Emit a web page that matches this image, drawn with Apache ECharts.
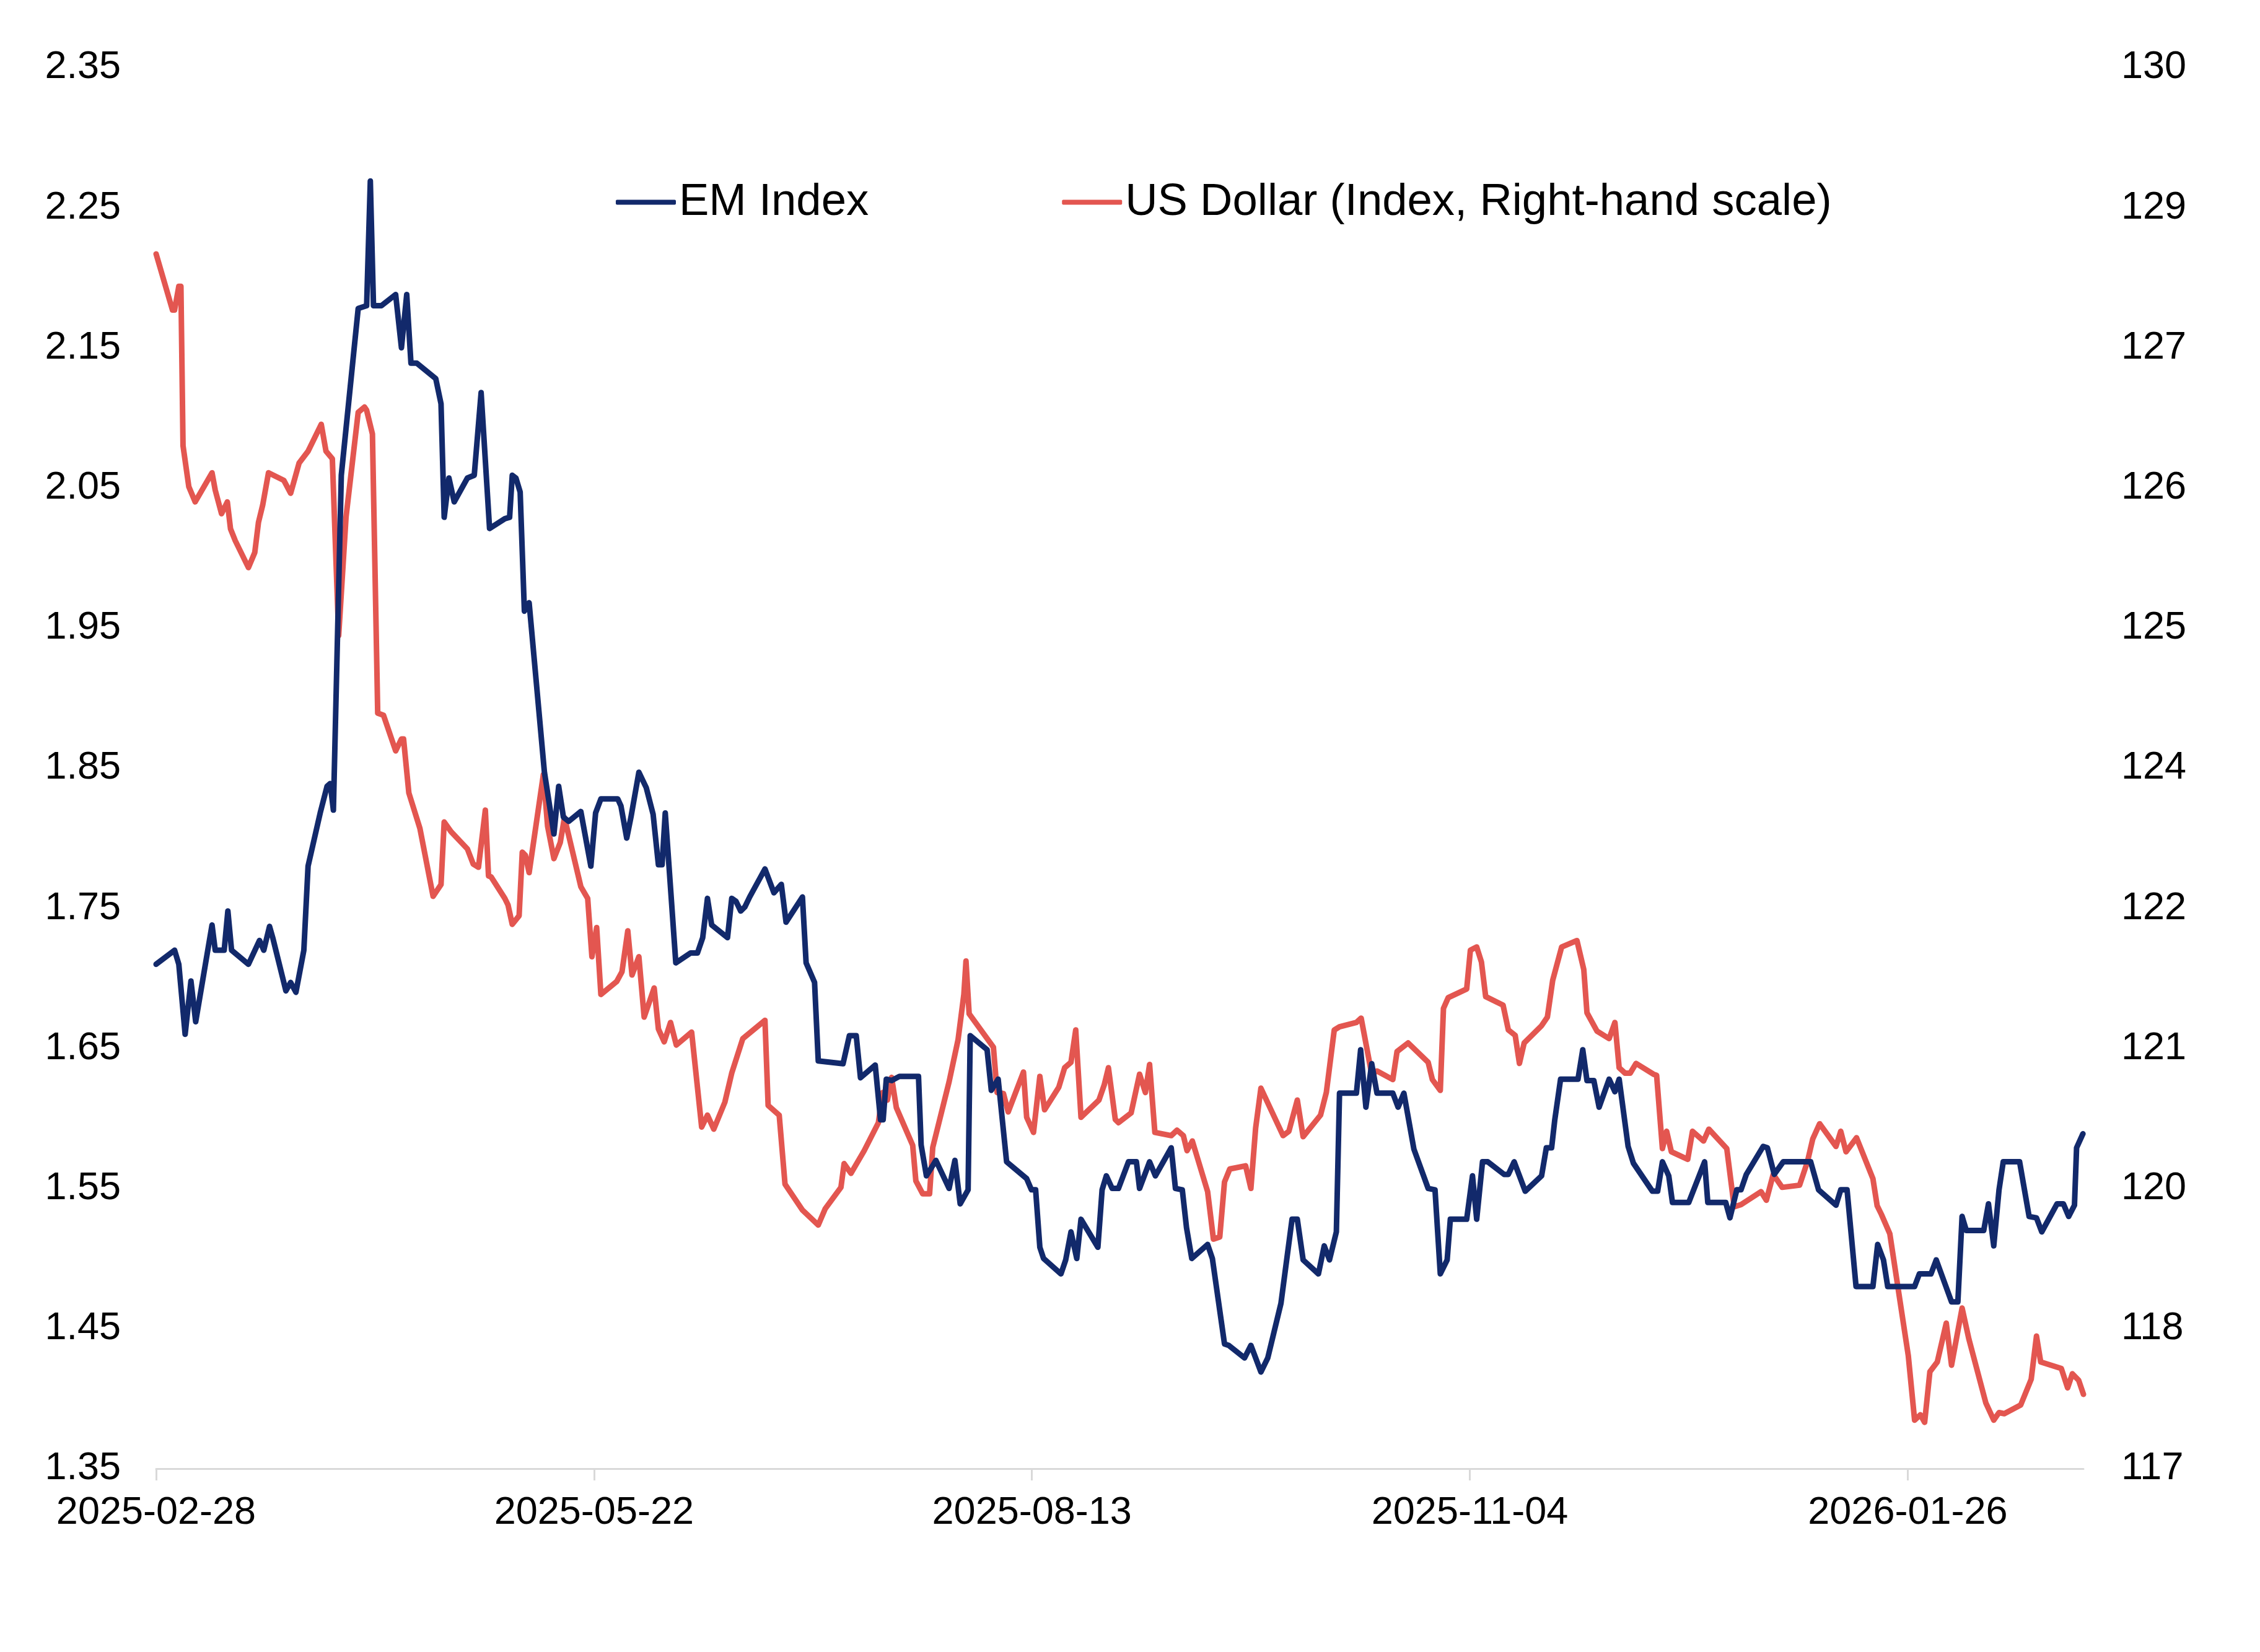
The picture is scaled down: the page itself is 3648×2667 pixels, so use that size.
<!DOCTYPE html>
<html>
<head>
<meta charset="utf-8">
<title>EM Index vs US Dollar</title>
<script src="https://cdn.jsdelivr.net/npm/echarts@6/dist/echarts.min.js"></script>
<style>
  html, body { margin: 0; padding: 0; background: #fff; }
  #chart { width: 3648px; height: 2667px; }
</style>
</head>
<body>
<div id="chart"></div>
<script>
// x positions are days since the first date
const startDate = '2025-02-28';
const tickLabels = ['2025-02-28', '2025-05-22', '2025-08-13', '2025-11-04', '2026-01-26'];

const emDays = [
  0, 3.5, 4.3, 5.5, 6.6, 7.5, 10.6, 11.2, 12.9, 13.6, 14.3, 17.5, 19.6, 20.4, 21.5, 22.1, 24.6, 25.5, 26.5, 28.0,
  28.8, 31.1, 32.4, 33.0, 33.6, 35.1, 38.3, 39.9, 40.6, 41.2, 42.7, 45.4, 46.5, 47.5, 48.3, 49.4, 53.0, 54.0, 54.6, 55.5,
  56.5, 59.0, 60.3, 61.6, 63.2, 66.1, 67.0, 67.5, 68.2, 69.0, 69.8, 70.7, 73.6, 75.4, 76.3, 77.2, 78.2, 80.5, 82.4, 83.3,
  84.3, 87.5, 88.1, 89.2, 90.0, 91.5, 92.9, 94.2, 95.2, 95.9, 96.5, 98.5, 101.3, 102.6, 103.6, 104.5, 105.3, 108.3, 109.1, 109.9,
  110.8, 111.6, 112.5, 115.4, 117.1, 118.5, 119.4, 122.5, 123.2, 124.8, 125.5, 130.2, 131.4, 132.7, 133.5, 136.3, 137.3, 137.8, 138.4, 139.4,
  140.9, 144.5, 145.0, 146.0, 147.8, 150.3, 151.4, 152.4, 153.9, 154.3, 157.5, 158.3, 159.6, 161.2, 165.0, 165.9, 166.7, 167.5, 168.2, 171.5,
  172.4, 173.4, 174.5, 175.3, 178.5, 179.3, 180.1, 181.2, 182.4, 184.3, 185.8, 186.4, 188.3, 189.4, 192.4, 193.2, 194.5, 195.3, 196.3, 199.3,
  200.2, 202.5, 203.3, 206.3, 207.5, 209.4, 210.7, 213.2, 215.3, 216.3, 217.4, 220.3, 221.4, 222.4, 223.7, 224.3, 227.5, 228.3, 229.3, 230.4,
  231.4, 234.4, 235.4, 236.5, 238.4, 241.1, 242.4, 243.4, 244.7, 245.3, 248.4, 249.5, 250.3, 251.4, 252.4, 255.5, 256.3, 257.4, 259.5, 262.6,
  263.5, 264.5, 265.1, 266.2, 269.5, 270.4, 271.2, 272.5, 273.5, 275.4, 276.5, 277.3, 279.0, 280.0, 283.6, 284.6, 285.5, 286.7, 287.4, 290.5,
  293.5, 294.1, 297.5, 298.3, 299.6, 300.4, 301.4, 304.6, 305.4, 306.7, 308.4, 313.6, 315.1, 318.4, 319.3, 320.5, 322.2, 325.4, 326.3, 327.4,
  328.2, 333.3, 334.2, 336.4, 337.4, 340.3, 341.5, 342.3, 343.1, 346.4, 347.3, 348.3, 349.3, 350.1, 353.2, 355.0, 356.4, 357.4, 360.3, 361.5,
  362.5, 363.6, 364.0, 365.2
];
const emValues = [
  1.710, 1.720, 1.710, 1.660, 1.698, 1.669, 1.738, 1.720, 1.720, 1.748, 1.720, 1.710, 1.727, 1.720, 1.737, 1.729, 1.691, 1.697, 1.690, 1.720,
  1.780, 1.818, 1.837, 1.839, 1.820, 2.059, 2.178, 2.180, 2.269, 2.180, 2.180, 2.188, 2.150, 2.188, 2.139, 2.139, 2.128, 2.110, 2.029, 2.057,
  2.040, 2.057, 2.059, 2.118, 2.021, 2.028, 2.029, 2.059, 2.057, 2.047, 1.962, 1.968, 1.847, 1.803, 1.837, 1.815, 1.812, 1.819, 1.780, 1.818,
  1.828, 1.828, 1.823, 1.800, 1.815, 1.847, 1.836, 1.817, 1.781, 1.781, 1.818, 1.711, 1.718, 1.718, 1.729, 1.757, 1.738, 1.729, 1.757, 1.755,
  1.748, 1.751, 1.758, 1.778, 1.761, 1.767, 1.740, 1.758, 1.711, 1.697, 1.641, 1.639, 1.659, 1.659, 1.629, 1.638, 1.599, 1.599, 1.628, 1.627,
  1.630, 1.630, 1.581, 1.559, 1.570, 1.550, 1.570, 1.539, 1.549, 1.659, 1.649, 1.620, 1.628, 1.569, 1.557, 1.549, 1.549, 1.508, 1.500, 1.489,
  1.499, 1.519, 1.500, 1.528, 1.508, 1.549, 1.559, 1.550, 1.550, 1.569, 1.569, 1.550, 1.569, 1.559, 1.579, 1.550, 1.549, 1.522, 1.500, 1.510,
  1.500, 1.439, 1.438, 1.429, 1.438, 1.419, 1.429, 1.468, 1.528, 1.528, 1.499, 1.489, 1.509, 1.499, 1.519, 1.618, 1.618, 1.649, 1.608, 1.639,
  1.618, 1.618, 1.608, 1.618, 1.578, 1.550, 1.549, 1.489, 1.499, 1.528, 1.528, 1.559, 1.528, 1.569, 1.569, 1.560, 1.560, 1.569, 1.548, 1.559,
  1.579, 1.579, 1.599, 1.628, 1.628, 1.649, 1.627, 1.627, 1.608, 1.628, 1.619, 1.628, 1.580, 1.568, 1.548, 1.548, 1.569, 1.559, 1.540, 1.540,
  1.569, 1.540, 1.540, 1.529, 1.549, 1.549, 1.560, 1.580, 1.579, 1.560, 1.569, 1.569, 1.549, 1.538, 1.549, 1.549, 1.480, 1.480, 1.510, 1.499,
  1.480, 1.480, 1.489, 1.489, 1.499, 1.469, 1.469, 1.530, 1.520, 1.520, 1.539, 1.509, 1.549, 1.569, 1.569, 1.530, 1.529, 1.519, 1.539, 1.539,
  1.530, 1.538, 1.579, 1.589
];

const usdDays = [
  0, 3.1, 3.5, 4.3, 4.7, 5.1, 6.2, 7.4, 10.6, 11.2, 12.4, 13.5, 14.1, 15.0, 17.5, 18.7, 19.4, 20.2, 21.3, 24.2,
  25.5, 26.3, 27.1, 28.8, 31.3, 32.2, 33.4, 34.6, 36.0, 38.3, 39.5, 39.9, 41.0, 42.0, 43.1, 45.4, 46.5, 46.9, 47.9, 50.0,
  52.5, 54.0, 54.6, 55.9, 59.0, 60.1, 61.1, 62.4, 63.0, 63.5, 66.1, 66.7, 67.5, 68.8, 69.4, 70.0, 70.7, 73.4, 74.2, 75.4,
  76.6, 77.4, 80.5, 81.8, 82.6, 83.5, 84.3, 87.3, 88.3, 89.4, 90.2, 91.5, 92.5, 94.4, 95.2, 96.3, 97.5, 98.6, 101.5, 103.4,
  104.5, 105.7, 107.8, 109.1, 111.2, 115.4, 116.0, 118.1, 119.2, 122.5, 125.5, 126.8, 129.8, 130.4, 131.7, 134.2, 136.9, 137.7, 138.6, 139.4,
  140.3, 143.4, 144.0, 145.3, 146.6, 147.2, 150.3, 152.0, 153.1, 153.5, 154.1, 158.7, 159.4, 160.6, 161.5, 164.4, 165.0, 166.3, 167.5, 168.4,
  171.1, 172.2, 173.4, 174.3, 175.3, 178.7, 179.7, 180.5, 181.8, 182.4, 184.8, 186.4, 187.5, 188.3, 189.3, 192.4, 193.5, 194.7, 195.4, 196.4,
  199.3, 200.4, 201.6, 202.5, 203.5, 206.5, 207.5, 208.4, 209.4, 213.6, 214.7, 216.3, 217.4, 220.7, 221.8, 223.3, 224.3, 227.5, 228.4, 230.4,
  231.4, 234.4, 235.2, 237.3, 241.1, 241.9, 243.4, 244.0, 244.9, 248.4, 249.1, 250.3, 251.2, 252.0, 255.3, 256.3, 257.6, 258.4, 259.3, 262.6,
  263.7, 264.7, 266.4, 269.3, 270.6, 271.2, 273.1, 275.4, 276.5, 277.3, 278.4, 279.4, 280.5, 283.8, 284.4, 285.5, 286.3, 287.2, 290.3, 291.2,
  293.3, 294.3, 297.7, 299.1, 300.4, 304.2, 305.2, 306.5, 308.2, 311.5, 313.0, 314.0, 315.3, 318.4, 319.3, 320.3, 322.3, 325.4, 326.2, 327.0,
  328.6, 332.1, 333.3, 334.4, 335.2, 336.2, 337.6, 339.3, 340.3, 342.3, 343.6, 346.8, 348.3, 349.3, 350.3, 353.4, 355.4, 356.4, 357.2, 361.1,
  362.3, 363.2, 364.4, 365.3
];
const usdValues = [
  128.27, 127.75, 127.75, 127.97, 127.97, 126.49, 126.11, 125.97, 126.24, 126.08, 125.86, 125.97, 125.72, 125.61, 125.36, 125.50, 125.78, 125.94, 126.24, 126.17,
  126.05, 126.19, 126.33, 126.44, 126.69, 126.44, 126.37, 124.73, 125.83, 126.80, 126.85, 126.82, 126.60, 124.01, 123.99, 123.66, 123.77, 123.77, 123.27, 122.94,
  122.31, 122.42, 123.00, 122.91, 122.75, 122.61, 122.58, 123.11, 122.50, 122.49, 122.29, 122.23, 122.05, 122.13, 122.72, 122.69, 122.53, 123.44, 122.96, 122.66,
  122.81, 123.04, 122.40, 122.29, 121.75, 122.02, 121.40, 121.52, 121.61, 121.99, 121.58, 121.75, 121.19, 121.46, 121.08, 120.96, 121.14, 120.93, 121.05, 120.17,
  120.28, 120.15, 120.40, 120.67, 120.99, 121.16, 120.37, 120.28, 119.64, 119.40, 119.26, 119.41, 119.61, 119.83, 119.74, 119.95, 120.21, 120.49, 120.42, 120.63,
  120.35, 120.00, 119.67, 119.55, 119.55, 119.98, 120.59, 120.98, 121.40, 121.71, 121.22, 120.91, 120.49, 120.48, 120.31, 120.68, 120.26, 120.12, 120.64, 120.33,
  120.54, 120.72, 120.77, 121.07, 120.26, 120.42, 120.56, 120.72, 120.24, 120.21, 120.30, 120.66, 120.49, 120.75, 120.12, 120.09, 120.14, 120.09, 119.95, 120.04,
  119.57, 119.13, 119.15, 119.66, 119.78, 119.81, 119.60, 120.16, 120.53, 120.09, 120.13, 120.42, 120.08, 120.28, 120.49, 121.07, 121.10, 121.14, 121.18, 120.66,
  120.69, 120.61, 120.87, 120.95, 120.77, 120.61, 120.51, 121.27, 121.37, 121.45, 121.81, 121.84, 121.70, 121.38, 121.30, 121.07, 121.02, 120.76, 120.95, 121.11,
  121.19, 121.53, 121.84, 121.90, 121.63, 121.23, 121.06, 120.99, 121.14, 120.72, 120.67, 120.67, 120.76, 120.66, 120.65, 119.97, 120.13, 119.94, 119.87, 120.13,
  120.04, 120.15, 119.97, 119.43, 119.45, 119.57, 119.49, 119.73, 119.61, 119.63, 119.85, 120.06, 120.20, 119.99, 120.13, 119.94, 120.07, 119.69, 119.44, 119.36,
  119.18, 118.05, 117.45, 117.50, 117.43, 117.90, 117.99, 118.35, 117.96, 118.49, 118.20, 117.61, 117.45, 117.52, 117.51, 117.59, 117.83, 118.23, 117.99, 117.93,
  117.75, 117.88, 117.82, 117.69
];

const DAY_MS = 24 * 3600 * 1000;
const startMs = Date.parse(startDate + 'T00:00:00Z');
const dayToLabel = d => new Date(startMs + Math.round(d) * DAY_MS).toISOString().slice(0, 10);
const tickDays = tickLabels.map(s => Math.round((Date.parse(s + 'T00:00:00Z') - startMs) / DAY_MS));

const zip = (xs, ys) => xs.map((x, i) => [x, ys[i]]);
const font = "'Liberation Sans', Arial, sans-serif";
const EM_COLOR = '#12296B';
const USD_COLOR = '#E35650';

const chart = echarts.init(document.getElementById('chart'));

const option = {
  animation: false,
  backgroundColor: '#ffffff',
  grid: {
    left: 252,
    right: 285,
    top: 109,
    bottom: 296,
    containLabel: false
  },
  legend: {
    left: 989,
    top: 285,
    itemWidth: 97,
    itemHeight: 8,
    itemGap: 312,
    icon: 'roundRect',
    textStyle: { fontSize: 72.5, color: '#000', fontFamily: font },
    data: ['EM Index', 'US Dollar (Index, Right-hand scale)']
  },
  xAxis: {
    type: 'value',
    min: 0,
    max: Math.max(emDays[emDays.length - 1], usdDays[usdDays.length - 1]),
    interval: 83,
    splitLine: { show: false },
    axisLine: { show: true, lineStyle: { color: '#D9D9D9', width: 3 } },
    axisTick: {
      show: true,
      length: 19,
      customValues: tickDays,
      lineStyle: { color: '#D9D9D9', width: 3 }
    },
    axisLabel: {
      customValues: tickDays,
      margin: 40,
      color: '#000',
      fontSize: 63,
      fontFamily: font,
      formatter: v => dayToLabel(v)
    }
  },
  yAxis: [
    {
      type: 'value',
      position: 'left',
      min: 1.35,
      max: 2.35,
      interval: 0.1,
      splitLine: { show: false },
      axisLine: { show: false },
      axisTick: { show: false },
      axisLabel: {
        margin: 57,
        color: '#000',
        fontSize: 63,
        fontFamily: font,
        formatter: v => v.toFixed(2)
      }
    },
    {
      // same ten steps as the left axis, labels rounded to whole numbers
      type: 'value',
      position: 'right',
      min: 117,
      max: 130,
      interval: 1.3,
      splitLine: { show: false },
      axisLine: { show: false },
      axisTick: { show: false },
      axisLabel: {
        margin: 61,
        color: '#000',
        fontSize: 63,
        fontFamily: font,
        formatter: v => String(Math.round(v))
      }
    }
  ],
  series: [
    {
      name: 'EM Index',
      type: 'line',
      yAxisIndex: 0,
      showSymbol: false,
      symbol: 'none',
      color: EM_COLOR,
      lineStyle: { color: EM_COLOR, width: 9, cap: 'round', join: 'round' },
      data: zip(emDays, emValues),
      z: 3
    },
    {
      name: 'US Dollar (Index, Right-hand scale)',
      type: 'line',
      yAxisIndex: 1,
      showSymbol: false,
      symbol: 'none',
      color: USD_COLOR,
      lineStyle: { color: USD_COLOR, width: 9, cap: 'round', join: 'round' },
      data: zip(usdDays, usdValues),
      z: 2
    }
  ]
};

chart.setOption(option);
</script>
</body>
</html>
